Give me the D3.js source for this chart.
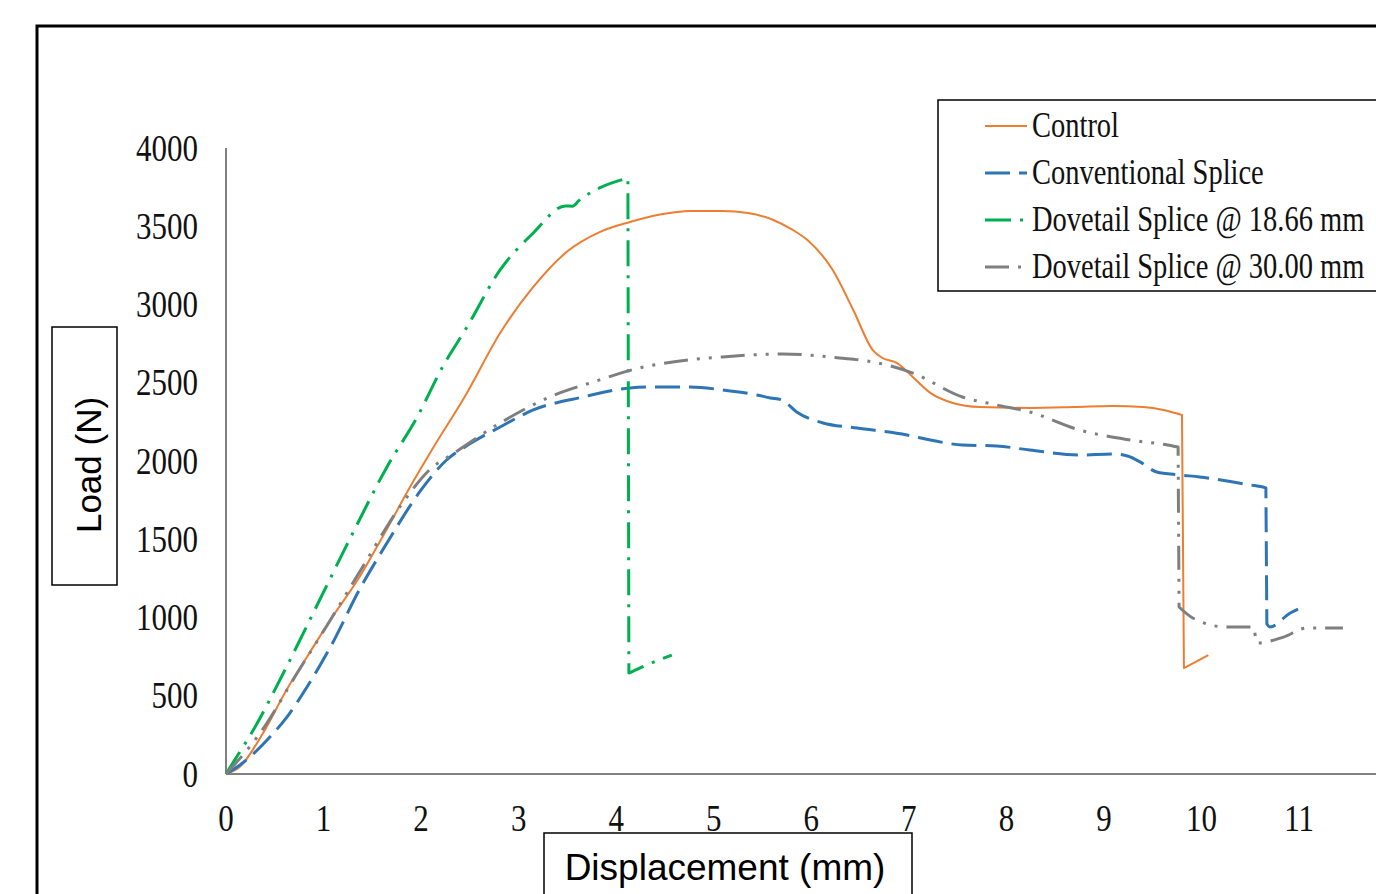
<!DOCTYPE html>
<html>
<head>
<meta charset="utf-8">
<script src="https://cdn.jsdelivr.net/npm/d3@7"></script>
<style>
  body { margin: 0; background: #fff; }
  svg { display: block; }
</style>
</head>
<body>
<svg id="chart" width="1376" height="894"></svg>
<script>
// series: [displacement (mm), load (N)]
const control = [
  [0, 0], [0.14, 45], [0.38, 262], [0.62, 537], [0.83, 748], [1.07, 985],
  [1.37, 1260], [1.6, 1510], [1.92, 1870], [2.09, 2050], [2.47, 2435],
  [2.81, 2818], [3.15, 3112], [3.5, 3340], [3.83, 3463], [4.14, 3527],
  [4.45, 3575], [4.76, 3598], [5.09, 3598], [5.35, 3585], [5.61, 3540],
  [5.8, 3480], [5.96, 3412], [6.22, 3220], [6.43, 2965], [6.63, 2709],
  [6.73, 2658], [6.88, 2626], [7.04, 2537], [7.22, 2435], [7.45, 2371],
  [7.73, 2345], [8.24, 2339], [8.7, 2345], [9.09, 2352], [9.4, 2345],
  [9.61, 2326], [9.8, 2294], [9.82, 677], [10.07, 760]
]
const conventional = [
  [0, 0], [0.17, 70], [0.45, 236], [0.62, 360], [0.83, 556], [1.07, 811],
  [1.37, 1180], [1.65, 1476], [2.0, 1815], [2.25, 2000], [2.5, 2110],
  [2.81, 2217], [3.15, 2326], [3.66, 2409], [4.14, 2467], [4.35, 2473],
  [4.76, 2473], [5.09, 2454], [5.44, 2422], [5.58, 2403], [5.7, 2390],
  [5.85, 2313], [6.12, 2243], [6.47, 2211], [6.98, 2166], [7.22, 2134],
  [7.55, 2102], [7.9, 2096], [8.24, 2070], [8.75, 2038], [9.09, 2045],
  [9.25, 2030], [9.37, 1994], [9.54, 1930], [9.78, 1911], [9.98, 1898],
  [10.5, 1847], [10.62, 1835], [10.66, 1828], [10.67, 960], [10.7, 940],
  [10.91, 1029], [10.99, 1054]
]
const dovetail1866 = [
  [0, 0], [0.09, 90], [0.28, 281], [0.62, 684], [0.96, 1112], [1.3, 1540],
  [1.65, 1962], [1.96, 2281], [2.22, 2601], [2.47, 2856], [2.81, 3221],
  [3.15, 3457], [3.48, 3630], [3.55, 3628], [3.62, 3665], [3.83, 3745],
  [4.12, 3808], [4.13, 645], [4.24, 677], [4.57, 760]
]
const dovetail3000 = [
  [0, 0], [0.35, 262], [0.73, 645], [1.07, 984], [1.4, 1323], [1.81, 1732],
  [2.12, 1962], [2.3, 2035], [2.81, 2243], [3.32, 2409], [3.83, 2518],
  [4.24, 2595], [4.58, 2633], [5.09, 2665], [5.71, 2684], [6.29, 2658],
  [6.63, 2633], [7.04, 2562], [7.55, 2409], [7.9, 2358], [8.24, 2313],
  [8.75, 2198], [9.27, 2134], [9.65, 2102], [9.76, 2089], [9.77, 1067],
  [9.91, 997], [10.26, 939], [10.53, 939], [10.57, 837], [10.84, 875],
  [11.08, 933], [11.45, 933]
]

const seriesNames = ['Control', 'Conventional Splice', 'Dovetail Splice @ 18.66 mm', 'Dovetail Splice @ 30.00 mm']
const seriesColors = ['#ED7D31', '#2E75B6', '#00B050', '#7F7F7F']
const seriesDash = [null, '25,9', '26,9,3,9', '24,9,3,9,3,9']
const seriesWidth = [2, 3, 3, 3]
const xTicks = [0, 1, 2, 3, 4, 5, 6, 7, 8, 9, 10, 11]
const yTicks = [0, 500, 1000, 1500, 2000, 2500, 3000, 3500, 4000]

const allSeries = [control, conventional, dovetail1866, dovetail3000]

let svg = d3.select('#chart')

let x = d3.scaleLinear().domain([0, 12]).range([226, 226 + 12 * 97.55])
let y = d3.scaleLinear().domain([0, 4000]).range([774, 148])

// outer frame (runs off the right and bottom edges)
svg.append('rect')
  .attr('x', 37).attr('y', 26)
  .attr('width', 1500).attr('height', 1000)
  .attr('fill', 'none').attr('stroke', '#000').attr('stroke-width', 3)

// axis lines, no tick marks
svg.append('line')
  .attr('x1', x(0)).attr('x2', 1400)
  .attr('y1', y(0)).attr('y2', y(0))
  .attr('stroke', '#808080').attr('stroke-width', 2)
svg.append('line')
  .attr('x1', x(0)).attr('x2', x(0))
  .attr('y1', y(0)).attr('y2', y(4000))
  .attr('stroke', '#808080').attr('stroke-width', 2)

// tick labels (serif text looks a bit stretched vertically)
svg.selectAll('.ytick')
  .data(yTicks)
  .enter()
  .append('text')
  .attr('class', 'ytick')
  .attr('transform', d => `translate(198,${y(d)}) scale(1,1.2)`)
  .attr('dy', '0.34em')
  .attr('text-anchor', 'end')
  .attr('font-family', 'Liberation Serif, serif')
  .attr('font-size', 31)
  .attr('fill', '#111')
  .text(d => d)

svg.selectAll('.xtick')
  .data(xTicks)
  .enter()
  .append('text')
  .attr('class', 'xtick')
  .attr('transform', d => `translate(${x(d)},831) scale(1,1.2)`)
  .attr('text-anchor', 'middle')
  .attr('font-family', 'Liberation Serif, serif')
  .attr('font-size', 31)
  .attr('fill', '#111')
  .text(d => d)

// smooth pieces, but the sudden load drops stay straight
let smooth = d3.line()
  .x(d => x(d[0]))
  .y(d => y(d[1]))
  .curve(d3.curveMonotoneX)

let seriesPath = (data) => {
  let pieces = [[data[0]]]
  for (let i = 1; i < data.length; i++) {
    if (Math.abs(data[i][1] - data[i - 1][1]) > 500) pieces.push([])
    pieces[pieces.length - 1].push(data[i])
  }
  // join the pieces with straight segments, keep one continuous path
  return pieces.map((p, i) => {
    let s = p.length > 1 ? smooth(p) : `M${x(p[0][0])},${y(p[0][1])}`
    return i === 0 ? s : 'L' + s.slice(1)
  }).join('')
}

svg.selectAll('.series')
  .data(allSeries)
  .enter()
  .append('path')
  .attr('class', 'series')
  .attr('d', seriesPath)
  .attr('fill', 'none')
  .attr('stroke', (d, i) => seriesColors[i])
  .attr('stroke-width', (d, i) => seriesWidth[i])
  .attr('stroke-dasharray', (d, i) => seriesDash[i])
  .attr('stroke-linejoin', 'round')

// legend
svg.append('rect')
  .attr('x', 938).attr('y', 100)
  .attr('width', 600).attr('height', 191)
  .attr('fill', '#fff').attr('stroke', '#000').attr('stroke-width', 1.5)

let legend = svg.selectAll('.legend')
  .data(seriesNames)
  .enter()
  .append('g')
  .attr('class', 'legend')
  .attr('transform', (d, i) => `translate(0,${126 + i * 47})`)

legend.append('line')
  .attr('x1', 985).attr('x2', 1027)
  .attr('stroke', (d, i) => seriesColors[i])
  .attr('stroke-width', (d, i) => seriesWidth[i])
  .attr('stroke-dasharray', (d, i) => seriesDash[i])

legend.append('text')
  .attr('transform', 'translate(1032,11) scale(1,1.22)')
  .attr('font-family', 'Liberation Serif, serif')
  .attr('font-size', 28.5)
  .attr('fill', '#111')
  .text(d => d)

// axis titles in boxes
svg.append('rect')
  .attr('x', 52).attr('y', 327)
  .attr('width', 65).attr('height', 258)
  .attr('fill', '#fff').attr('stroke', '#000').attr('stroke-width', 1.5)
svg.append('text')
  .attr('transform', 'translate(101,465) rotate(-90)')
  .attr('text-anchor', 'middle')
  .attr('font-family', 'Liberation Sans, Arial, sans-serif')
  .attr('font-size', 35)
  .attr('fill', '#000')
  .text('Load (N)')

svg.append('rect')
  .attr('x', 544).attr('y', 833)
  .attr('width', 368).attr('height', 100)
  .attr('fill', '#fff').attr('stroke', '#000').attr('stroke-width', 1.5)
svg.append('text')
  .attr('x', 725).attr('y', 880)
  .attr('text-anchor', 'middle')
  .attr('font-family', 'Liberation Sans, Arial, sans-serif')
  .attr('font-size', 37)
  .attr('fill', '#000')
  .text('Displacement (mm)')
</script>
</body>
</html>
